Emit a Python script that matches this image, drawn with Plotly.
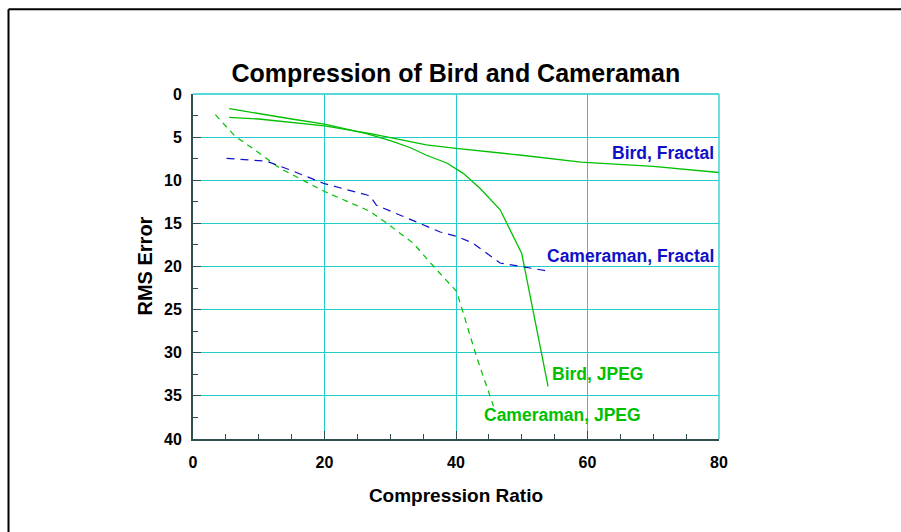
import plotly.graph_objects as go

# Data
bird_fractal_x = [5.5, 10, 20, 27, 35.5, 40, 50, 59, 70, 80]
bird_fractal_y = [2.7, 2.9, 3.7, 4.6, 5.9, 6.3, 7.1, 7.9, 8.4, 9.1]

bird_jpeg_x = [5.5, 10, 15, 20, 26.4, 30, 33, 35.5, 38.6, 41.1, 43.6, 46.7, 50, 54]
bird_jpeg_y = [1.7, 2.3, 2.9, 3.5, 4.6, 5.4, 6.2, 7.1, 8.0, 9.2, 10.9, 13.4, 18.5, 33.9]

cam_jpeg_x = [3.4, 6.4, 10, 13.2, 20, 26.9, 29.5, 33.5, 36.6, 40.1, 43.1, 45.7]
cam_jpeg_y = [2.4, 4.9, 6.8, 8.6, 11.3, 13.6, 15.0, 17.3, 20.0, 22.9, 30.4, 36.2]

cam_fractal_x = [5.1, 11.2, 14.75, 20, 26.9, 27.9, 34.5, 37.6, 40.1, 42.6, 46.7, 53.8]
cam_fractal_y = [7.46, 7.8, 8.8, 10.4, 11.8, 12.9, 15.0, 16.0, 16.5, 17.3, 19.6, 20.5]

x_ticks = [0, 20, 40, 60, 80]
y_ticks = [0, 5, 10, 15, 20, 25, 30, 35, 40]

GREEN = "#00c000"
BLUE = "#1010c8"
GRID = "#20cccc"
AXIS = "#2f4f4f"
FONT = "Liberation Sans, Arial, sans-serif"

fig = go.Figure()
fig.add_trace(go.Scatter(x=bird_fractal_x, y=bird_fractal_y, mode="lines",
                         line=dict(color=GREEN, width=1.3)))
fig.add_trace(go.Scatter(x=bird_jpeg_x, y=bird_jpeg_y, mode="lines",
                         line=dict(color=GREEN, width=1.3)))
fig.add_trace(go.Scatter(x=cam_jpeg_x, y=cam_jpeg_y, mode="lines",
                         line=dict(color=GREEN, width=1.2, dash="6px,5px")))
fig.add_trace(go.Scatter(x=cam_fractal_x, y=cam_fractal_y, mode="lines",
                         line=dict(color=BLUE, width=1.2, dash="8px,6px")))

lab_font = dict(family=FONT, size=17.5)
fig.add_annotation(x=79.6, y=6.84, text="<b>Bird, Fractal</b>", showarrow=False,
                   xanchor="right", yanchor="middle", font=dict(lab_font, color=BLUE))
fig.add_annotation(x=79.6, y=18.8, text="<b>Cameraman, Fractal</b>", showarrow=False,
                   xanchor="right", yanchor="middle", font=dict(lab_font, color=BLUE))
fig.add_annotation(x=54.3, y=32.5, text="<b>Bird, JPEG</b>", showarrow=False,
                   xanchor="left", yanchor="middle", font=dict(lab_font, color=GREEN))
fig.add_annotation(x=44.0, y=37.2, text="<b>Cameraman, JPEG</b>", showarrow=False,
                   xanchor="left", yanchor="middle", font=dict(lab_font, color=GREEN))

# top and right cyan borders of plot area
fig.add_shape(type="line", xref="paper", yref="paper", x0=0, x1=1, y0=1, y1=1,
              line=dict(color=GRID, width=1.3))
fig.add_shape(type="line", xref="paper", yref="paper", x0=1, x1=1, y0=0, y1=1,
              line=dict(color=GRID, width=1.3))

# outer frame
L, R, T, B = 193, 182, 94, 93
pw, ph = 901 - L - R, 532 - T - B
def px(xp): return (xp - L) / pw
def py(yp): return 1 + (T - yp) / ph
fig.add_shape(type="line", xref="paper", yref="paper", x0=px(8.5), x1=px(905),
              y0=py(9.3), y1=py(9.3), line=dict(color="black", width=2))
fig.add_shape(type="line", xref="paper", yref="paper", x0=px(8.5), x1=px(8.5),
              y0=py(9.3), y1=py(540), line=dict(color="black", width=2))

# y-axis title as rotated text
fig.add_annotation(xref="paper", yref="paper", x=px(144), y=py(266.5),
                   text="<b>RMS Error</b>", textangle=-90, showarrow=False,
                   xanchor="center", yanchor="middle",
                   font=dict(family=FONT, size=20, color="black"))

fig.update_layout(
    width=901, height=532,
    margin=dict(l=L, r=R, t=T, b=B),
    paper_bgcolor="white", plot_bgcolor="white",
    showlegend=False,
    title=dict(text="<b>Compression of Bird and Cameraman</b>", x=0.506, xanchor="center",
               y=1 - 73 / 532, yanchor="middle",
               font=dict(family=FONT, size=25, color="black")),
    font=dict(family=FONT, color="black"),
)
fig.update_xaxes(
    range=[0, 80], tickvals=x_ticks, ticktext=[f"<b>{v}</b>" for v in x_ticks],
    showgrid=True, gridcolor=GRID, gridwidth=1.3, zeroline=False,
    showline=True, linecolor=AXIS, linewidth=2,
    ticks="inside", ticklen=8, tickcolor=AXIS, tickwidth=1,
    minor=dict(dtick=5, tick0=0, ticks="inside", ticklen=5, tickcolor=AXIS, showgrid=False),
    tickfont=dict(family=FONT, size=16, color="black"), ticklabelstandoff=8,
    title=dict(text="<b>Compression Ratio</b>", font=dict(family=FONT, size=19, color="black"), standoff=18),
)
fig.update_yaxes(
    range=[40, 0], tickvals=y_ticks, ticktext=[f"<b>{v}</b>" for v in y_ticks],
    showgrid=True, gridcolor=GRID, gridwidth=1.3, zeroline=False,
    showline=True, linecolor=AXIS, linewidth=2,
    ticks="inside", ticklen=8, tickcolor=AXIS, tickwidth=1,
    minor=dict(dtick=2.5, tick0=0, ticks="inside", ticklen=5, tickcolor=AXIS, showgrid=False),
    tickfont=dict(family=FONT, size=16, color="black"), ticklabelstandoff=6,
)

fig.write_html("out.html")
